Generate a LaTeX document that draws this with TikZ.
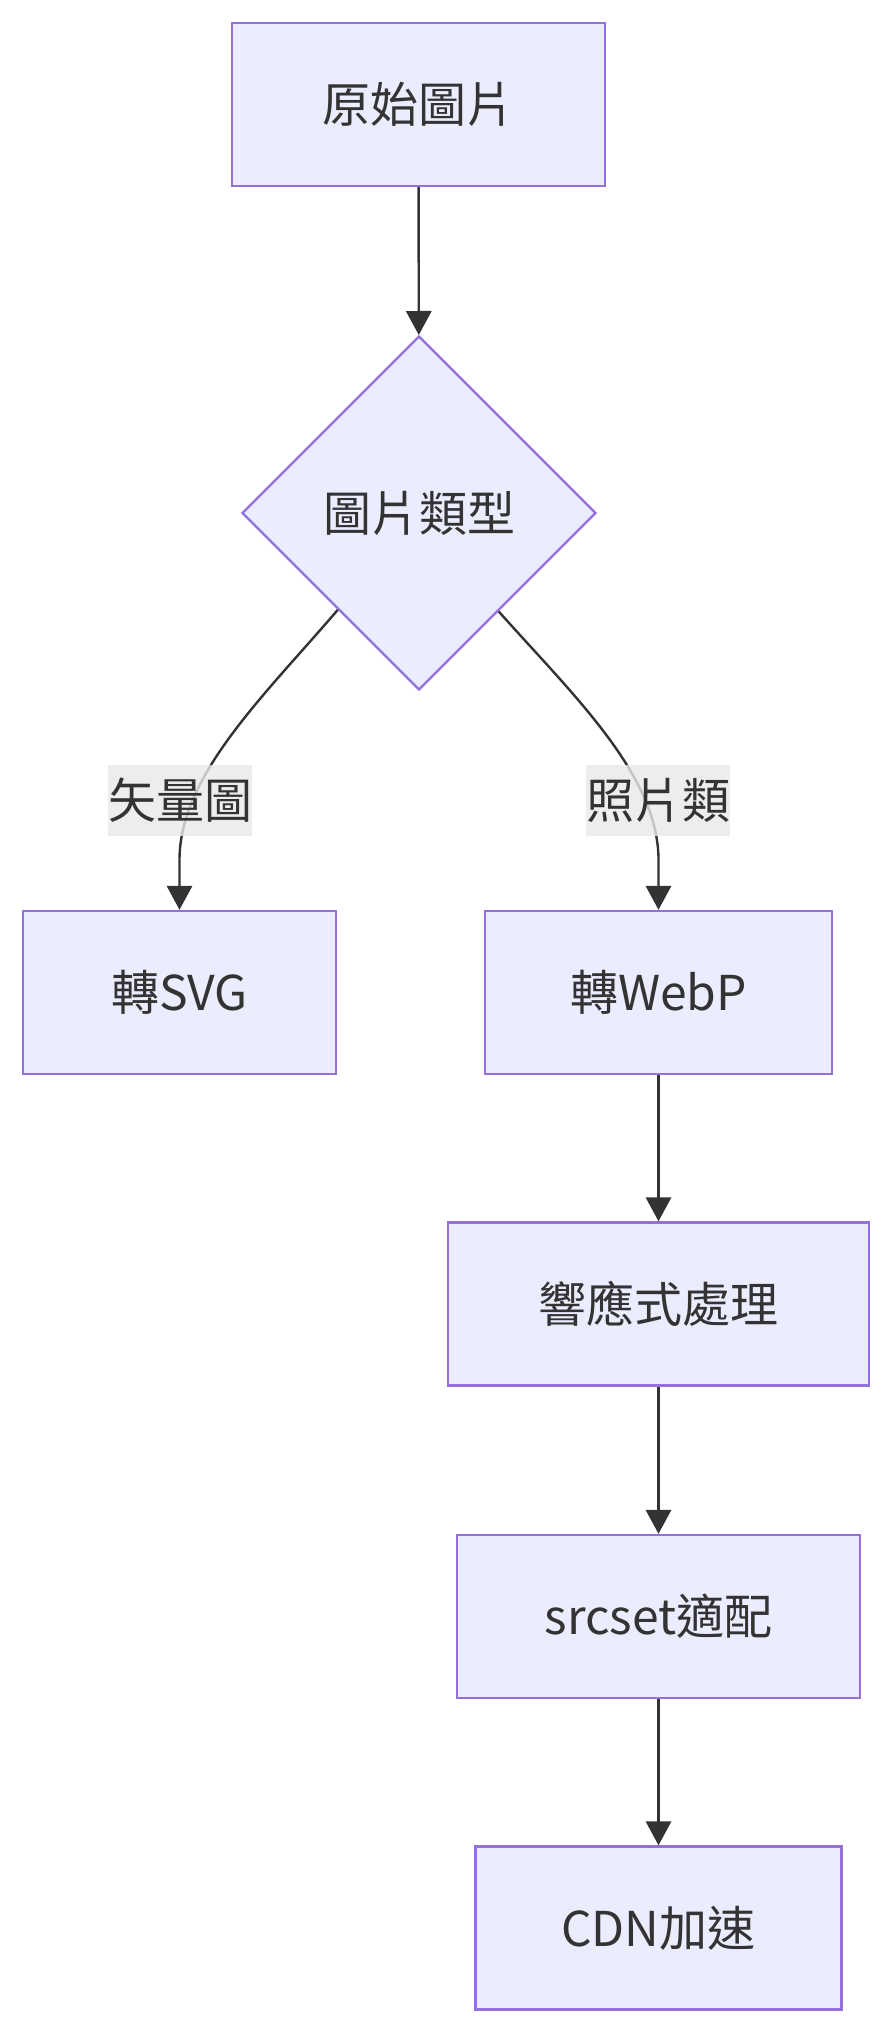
\documentclass[tikz,border=0pt]{standalone}
\usepackage{fontspec}
\setmainfont{Noto Sans CJK TC}
\usetikzlibrary{shapes.geometric,arrows.meta}
\definecolor{boxfill}{HTML}{ECECFF}
\definecolor{boxline}{HTML}{9370DB}
\definecolor{ink}{HTML}{333333}
\definecolor{lblbg}{HTML}{E8E8E8}
\begin{document}
\begin{tikzpicture}[x=0.75pt,y=-0.75pt,
  font=\fontsize{36pt}{43pt}\selectfont,
  box/.style={draw=boxline,fill=boxfill,line width=1.8pt,text=ink,minimum height=122.25pt,inner sep=0pt,rectangle},
  dec/.style={draw=boxline,fill=boxfill,line width=1.8pt,text=ink,diamond,aspect=1,minimum size=265.5pt,inner sep=0pt},
  lbl/.style={fill=lblbg,fill opacity=0.8,text opacity=1,text=ink,inner sep=0pt,minimum width=107.25pt,minimum height=53.25pt},
  conn/.style={draw=ink,line width=1.8pt,-{Triangle[length=18pt,width=19pt]}}]
\useasboundingbox (0,0) rectangle (892,2033);
\node[box,minimum width=279.75pt] (src) at (418.5,104.5) {原始圖片};
\node[dec] (type) at (419,513) {圖片類型};
\node[box,minimum width=234.75pt] (svg) at (179.5,992.5) {轉SVG};
\node[box,minimum width=260.25pt] (webp) at (658.5,992.5) {轉WebP};
\node[box,minimum width=315.75pt] (resp) at (658.5,1304) {響應式處理};
\node[box,minimum width=302.25pt] (srcset) at (658.5,1616.5) {srcset適配};
\node[box,minimum width=274.5pt] (cdn) at (658.5,1928) {CDN加速};
\coordinate (lbend) at (179.5,860);
\coordinate (rbend) at (658.5,860);
\draw[conn] (src) -- (type);
\draw[conn] (type.230.5) .. controls (265,695) and (179.5,775) .. (lbend) -- (svg);
\draw[conn] (type.309.5) .. controls (573,695) and (658.5,775) .. (rbend) -- (webp);
\draw[conn] (webp) -- (resp);
\draw[conn] (resp) -- (srcset);
\draw[conn] (srcset) -- (cdn);
\node[lbl] (l1) at (180,800) {矢量圖};
\node[lbl] (l2) at (658,800) {照片類};
\end{tikzpicture}
\end{document}
